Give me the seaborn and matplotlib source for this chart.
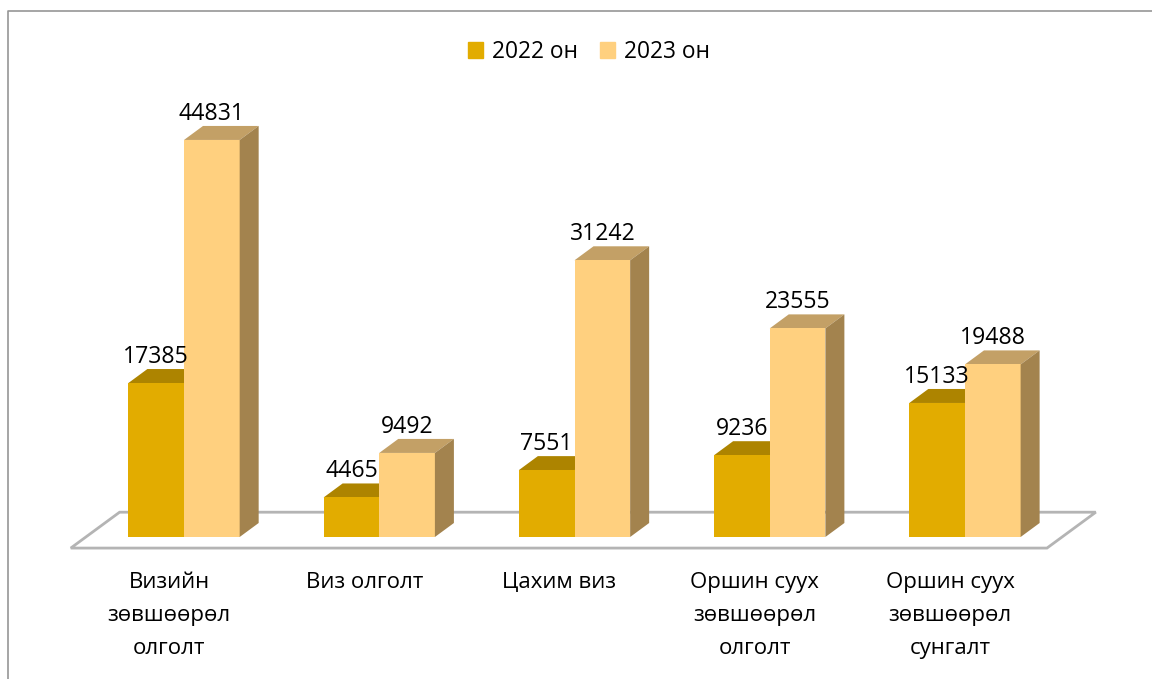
import pandas as pd
import matplotlib
matplotlib.use('Agg')
import matplotlib.pyplot as plt
import matplotlib.transforms as mtrans
import seaborn as sns
from matplotlib.patches import Polygon, Rectangle

categories = ['Визийн\nзөвшөөрөл\nолголт', 'Виз олголт', 'Цахим виз',
              'Оршин суух\nзөвшөөрөл\nолголт', 'Оршин суух\nзөвшөөрөл\nсунгалт']
values_2022 = [17385, 4465, 7551, 9236, 15133]
values_2023 = [44831, 9492, 31242, 23555, 19488]
series_names = ['2022 он', '2023 он']

W, H = 1152, 679
sns.set_theme(style='white')
plt.rcParams['font.family'] = ['Open Sans', 'DejaVu Sans']

df = pd.DataFrame({
    'cat': categories * 2,
    'year': [series_names[0]] * 5 + [series_names[1]] * 5,
    'val': values_2022 + values_2023,
})

fig = plt.figure(figsize=(W / 100, H / 100), dpi=100)
ax = fig.add_axes([86.4 / W, 1 - 537 / H, 976.2 / W, 457 / H])

front = ['#E2AC00', '#FFD07F']
sides = ['#A98100', '#A3834E']
tops = ['#AD8400', '#C3A066']

sns.barplot(data=df, x='cat', y='val', hue='year', palette=front, saturation=1,
            width=0.57, gap=0, legend=False, ax=ax, zorder=3, linewidth=0)
ax.set_xlim(-0.5, 4.5)
ax.set_ylim(0, 51600)

# depth of the fake 3d, in data units
dx = 19 / 195.24
dy = 14 * 51600 / 457

# floor under the bars
floor = Polygon([(-0.58, -1250), (4.42, -1250), (4.67, 2800), (-0.33, 2800)],
                closed=True, facecolor='white', edgecolor='#b4b4b4', lw=2,
                clip_on=False, zorder=1)
ax.add_patch(floor)

for i, bar in enumerate([p for p in ax.patches if isinstance(p, Rectangle)]):
    k = i // 5
    x0, x1 = bar.get_x(), bar.get_x() + bar.get_width()
    h = bar.get_height()
    ax.add_patch(Polygon([(x0, h), (x1, h), (x1 + dx, h + dy), (x0 + dx, h + dy)],
                         facecolor=tops[k], edgecolor='none', clip_on=False, zorder=2.9))
    ax.add_patch(Polygon([(x1, 0), (x1 + dx, dy), (x1 + dx, h + dy), (x1, h)],
                         facecolor=sides[k], edgecolor='none', clip_on=False, zorder=2.9 if k == 0 else 3.1))
    ax.text((x0 + x1) / 2, h + dy, f'{int(h)}', ha='center', va='bottom',
            fontsize=16.6, color='black', zorder=6)

sns.despine(ax=ax, left=True, bottom=True)
ax.set_xlabel('')
ax.set_ylabel('')
ax.set_yticks([])
ax.tick_params(axis='x', length=0, pad=25.5, labelsize=16, labelcolor='black')
shift = mtrans.ScaledTranslation(-15 / 100, 0, fig.dpi_scale_trans)
for lab in ax.get_xticklabels():
    lab.set_linespacing(1.75)
    lab.set_transform(lab.get_transform() + shift)

# legend
handles = [Rectangle((0, 0), 1, 1, color=c) for c in front]
fig.legend(handles, series_names, loc='center', bbox_to_anchor=(589 / W, 1 - 52 / H), ncol=2,
           frameon=False, fontsize=16.4, handlelength=0.65, handleheight=0.65,
           handletextpad=0.4, columnspacing=0.95, labelcolor='black')

# chart frame, left and top edge only
fig.add_artist(plt.Line2D([8 / W, 8 / W, 1], [0, 1 - 11 / H, 1 - 11 / H], color='#969696', lw=1.2))

fig.savefig('out.png', dpi=100)
